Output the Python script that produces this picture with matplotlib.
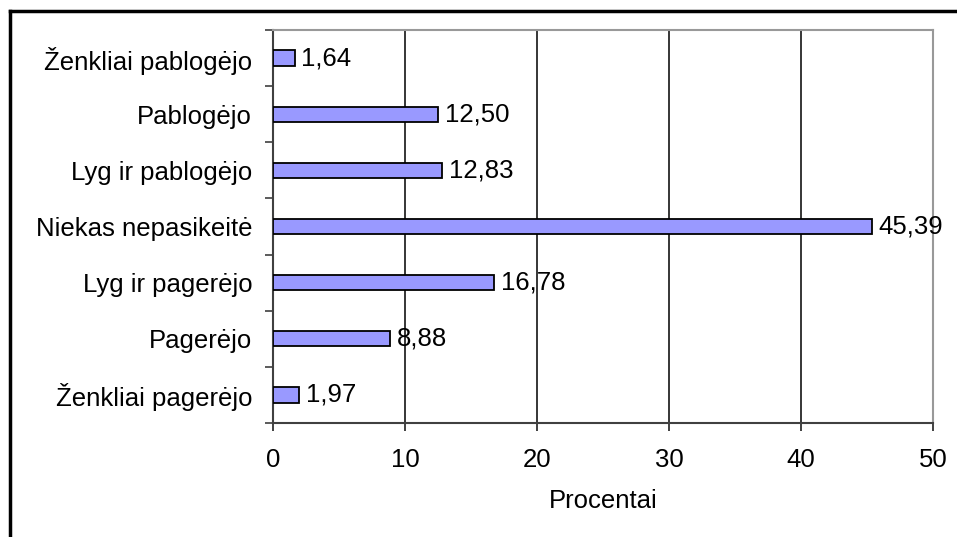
import matplotlib.pyplot as plt
from matplotlib.lines import Line2D
import numpy as np

plt.rcParams['font.family'] = ['Liberation Sans', 'DejaVu Sans']

categories = ['Ženkliai pagerėjo', 'Pagerėjo', 'Lyg ir pagerėjo', 'Niekas nepasikeitė',
              'Lyg ir pablogėjo', 'Pablogėjo', 'Ženkliai pablogėjo']
values = [1.97, 8.88, 16.78, 45.39, 12.83, 12.50, 1.64]
xticks = [0, 10, 20, 30, 40, 50]

fs = 18.5

fig = plt.figure(figsize=(9.57, 5.37), dpi=100)
ax = fig.add_axes([273 / 957, 1 - 423 / 537, 660 / 957, 393 / 537])

y = np.arange(len(categories))
ax.barh(y, values, height=0.27, color='#9999FF', edgecolor='black', linewidth=1.3, zorder=3)
for yi, v in zip(y, values):
    ax.text(v + 0.5, yi, f'{v:.2f}'.replace('.', ','), va='center', ha='left', fontsize=fs, zorder=4)

ax.set_xlim(0, 50)
ax.set_ylim(-0.5, len(categories) - 0.5)
ax.set_xticks(xticks)
ax.set_xticklabels([str(t) for t in xticks], fontsize=fs)
ax.set_yticks(y)
ax.set_yticklabels(categories, fontsize=fs)
ax.set_yticks(np.arange(-0.5, len(categories), 1), minor=True)
ax.tick_params(axis='y', which='major', length=0, pad=15)
ax.tick_params(axis='y', which='minor', length=6, width=1.2, color='#404040')
ax.tick_params(axis='x', length=6, width=1.2, color='#202020', pad=12)
ax.set_xlabel('Procentai', fontsize=fs, labelpad=12)

ax.grid(axis='x', color='black', linewidth=1.1, zorder=0)
for side in ('left', 'bottom'):
    ax.spines[side].set_color('#404040')
    ax.spines[side].set_linewidth(1.5)
for side in ('top', 'right'):
    ax.spines[side].set_color('#999999')
    ax.spines[side].set_linewidth(1.5)

# frame around the chart area
fig.add_artist(Line2D([10 / 957, 10 / 957], [0, 1 - 11 / 537], color='black', linewidth=2.5))
fig.add_artist(Line2D([10 / 957, 1], [1 - 11 / 537, 1 - 11 / 537], color='black', linewidth=2.5))

fig.savefig('out.png', dpi=100)
